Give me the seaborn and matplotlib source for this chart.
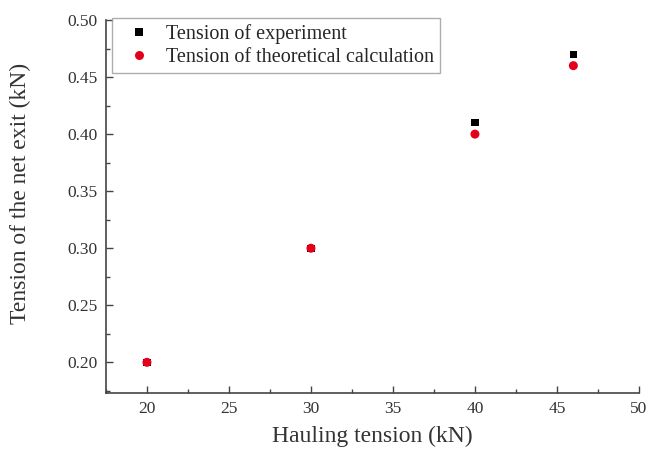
import numpy as np
import pandas as pd
import seaborn as sns
import matplotlib.pyplot as plt
from matplotlib.ticker import MultipleLocator

hauling = [20, 30, 40, 46]
tension_exp = [0.20, 0.30, 0.41, 0.47]
tension_theory = [0.20, 0.30, 0.40, 0.46]
labels = ["Tension of experiment", "Tension of theoretical calculation"]

df = pd.DataFrame({
    "hauling": hauling * 2,
    "tension": tension_exp + tension_theory,
    "series": [labels[0]] * 4 + [labels[1]] * 4,
})

sns.set_style("ticks")
plt.rcParams["font.family"] = ["Liberation Serif", "DejaVu Serif"]

fig = plt.figure(figsize=(6.5, 4.55), dpi=100)
ax = fig.add_axes([0.163, 0.136, 0.820, 0.820])

sns.scatterplot(data=df, x="hauling", y="tension", hue="series", style="series",
                size="series", sizes={labels[0]: 28, labels[1]: 42},
                palette=["black", "#e2001a"], markers=["s", "o"],
                linewidth=0, ax=ax)

ax.set_xlim(17.5, 50)
ax.set_ylim(0.173, 0.50)
ax.xaxis.set_major_locator(MultipleLocator(5))
ax.xaxis.set_minor_locator(MultipleLocator(2.5))
ax.yaxis.set_major_locator(MultipleLocator(0.05))
ax.yaxis.set_minor_locator(MultipleLocator(0.025))
ax.yaxis.set_major_formatter(plt.FormatStrFormatter("%.2f"))
ax.tick_params(which="major", direction="in", length=5, width=1, labelsize=12.5,
               colors="#444444", labelcolor="#333333", pad=6)
ax.tick_params(which="minor", direction="in", length=3, width=1, colors="#444444")
for side in ["top", "right"]:
    ax.spines[side].set_visible(False)
for side in ["left", "bottom"]:
    ax.spines[side].set_color("#444444")
    ax.spines[side].set_linewidth(1.2)

ax.set_xlabel("Hauling tension (kN)", fontsize=17, color="#333333", labelpad=6)
ax.set_ylabel("Tension of the net exit (kN)", fontsize=17, color="#333333")
ax.yaxis.set_label_coords(-0.141, 0.536)

leg = ax.legend(loc="upper left", bbox_to_anchor=(0.012, 1.006), fontsize=14.5,
                frameon=True, fancybox=False, edgecolor="#999999",
                handletextpad=0.35, handlelength=2.0, borderpad=0.3,
                labelspacing=0.2, borderaxespad=0)
leg.get_frame().set_linewidth(1.0)

fig.savefig("out.png", dpi=100)
